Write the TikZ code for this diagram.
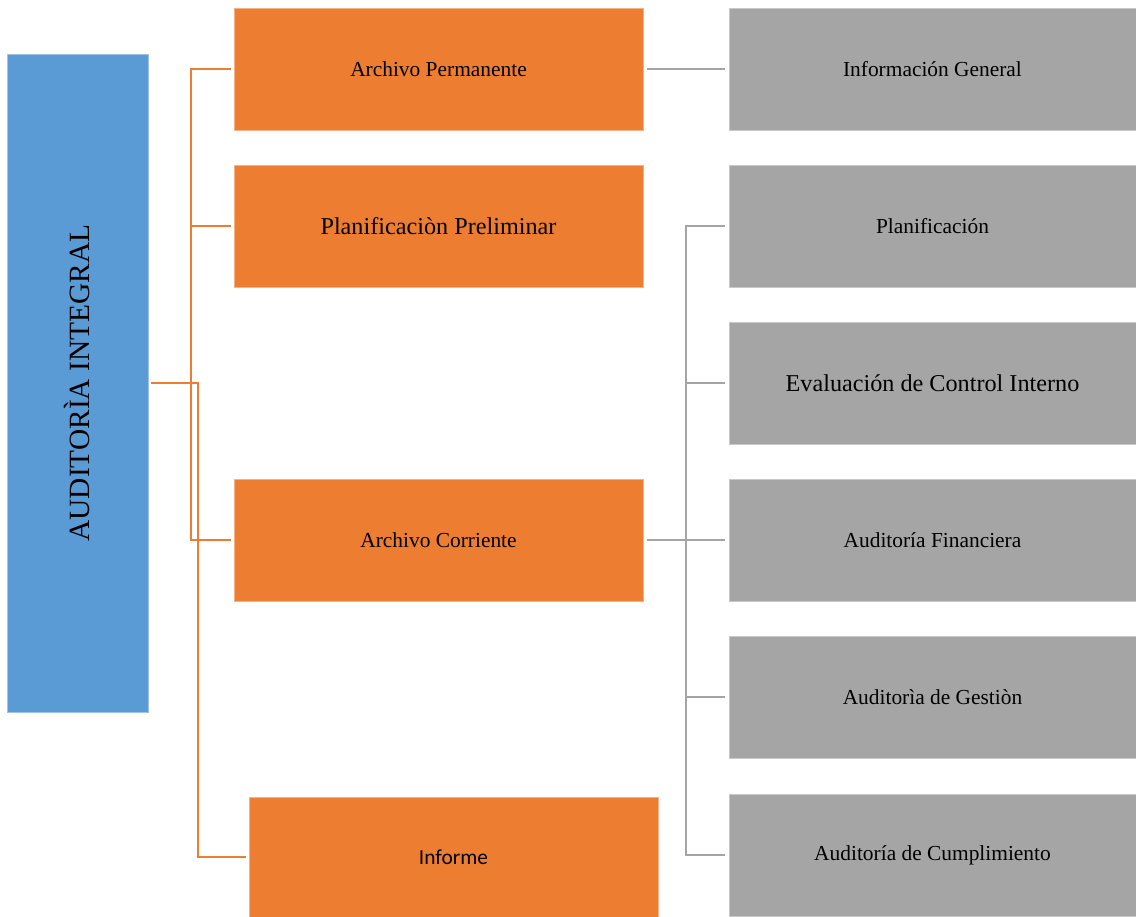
\documentclass[tikz,border=0pt]{standalone}
\usepackage{fontspec}
\setmainfont{Liberation Serif}
\newfontfamily\calfont{Carlito}
\definecolor{obox}{HTML}{ED7D31}
\definecolor{bbox}{HTML}{5B9BD5}
\definecolor{gbox}{HTML}{A5A5A5}
\begin{document}
\begin{tikzpicture}[x=1pt,y=-1pt,
  orangebox/.style={fill=obox,draw=obox!60!white,line width=0.6pt,minimum width=409pt,minimum height=122pt,inner sep=0pt,font=\fontsize{21.4}{24}\selectfont},
  graybox/.style={fill=gbox,draw=gbox!60!white,line width=0.6pt,minimum width=407pt,minimum height=122pt,inner sep=0pt,font=\fontsize{21.4}{24}\selectfont},
  bigtext/.style={font=\fontsize{24.2}{28}\selectfont},
  oline/.style={draw=obox,line width=2.7pt},
  gline/.style={draw=gbox,line width=2.7pt}]
\useasboundingbox (0,0) rectangle (1136,917);
% left blue box
\node[fill=bbox,draw=bbox!60!white,line width=0.6pt,minimum width=141pt,minimum height=658pt,inner sep=0pt] (ai) at (77.5,383) {};
\node[rotate=90,font=\fontsize{29.4}{33}\selectfont] (ait) at (ai.center) {AUDITORÌA INTEGRAL};
% orange boxes
\node[orangebox] (ap) at (438.5,69) {Archivo Permanente};
\node[orangebox,bigtext] (pp) at (438.5,226) {Planificaciòn Preliminar};
\node[orangebox] (ac) at (438.5,540) {Archivo Corriente};
\node[orangebox,minimum height=120pt,font=\calfont\fontsize{21.4}{24}\selectfont] (inf) at (453.5,857) {Informe};
% gray boxes
\node[graybox] (ig) at (932.5,69) {Información General};
\node[graybox] (pl) at (932.5,226) {Planificación};
\node[graybox,bigtext] (ev) at (932.5,383) {Evaluación de Control Interno};
\node[graybox] (af) at (932.5,540) {Auditoría Financiera};
\node[graybox] (ag) at (932.5,697) {Auditorìa de Gestiòn};
\node[graybox] (acu) at (932.5,855) {Auditoría de Cumplimiento};
% orange connectors
\draw[oline] (ai.east) ++(3,0) -- (198,383) |- ([xshift=-3pt]inf.west);
\draw[oline] ([xshift=-3pt]ap.west) -| (191,540) -- ([xshift=-3pt]ac.west);
\draw[oline] (191,226) -- ([xshift=-3pt]pp.west);
% gray connectors
\draw[gline] ([xshift=4pt]ap.east) -- ([xshift=-4pt]ig.west);
\draw[gline] ([xshift=4pt]ac.east) -- (686,540);
\draw[gline] ([xshift=-4pt]pl.west) -| (686,855) -- ([xshift=-4pt]acu.west);
\draw[gline] (686,383) -- ([xshift=-4pt]ev.west);
\draw[gline] (686,540) -- ([xshift=-4pt]af.west);
\draw[gline] (686,697) -- ([xshift=-4pt]ag.west);
\end{tikzpicture}
\end{document}
